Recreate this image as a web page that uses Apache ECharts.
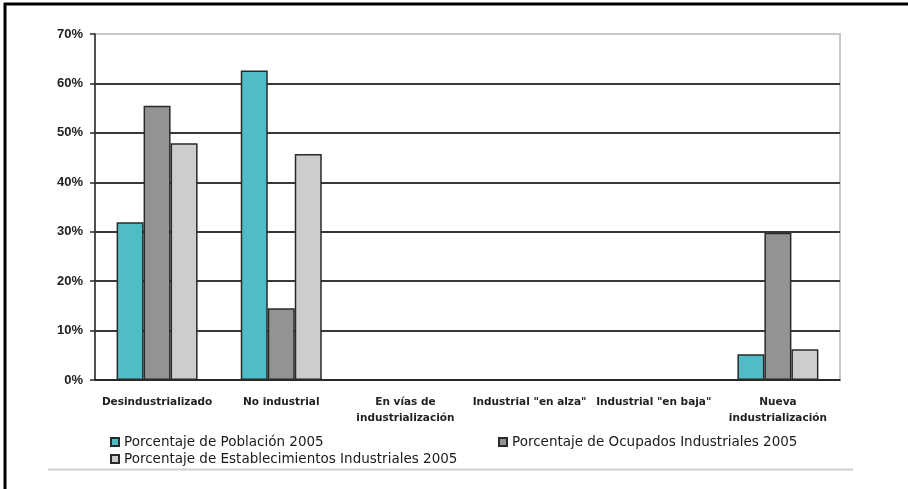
<!DOCTYPE html>
<html>
<head>
<meta charset="utf-8">
<script src="https://cdn.jsdelivr.net/npm/echarts@6/dist/echarts.min.js"></script>
<style>
  html, body { margin: 0; padding: 0; background: #fff; }
  #chart { width: 908px; height: 489px; }
</style>
</head>
<body>
<div id="chart"></div>
<script>
const categories = [
  'Desindustrializado',
  'No industrial',
  'En vías de\nindustrialización',
  'Industrial "en alza"',
  'Industrial "en baja"',
  'Nueva\nindustrialización'
];
const seriesNames = [
  'Porcentaje de Población 2005',
  'Porcentaje de Ocupados Industriales 2005',
  'Porcentaje de Establecimientos Industriales 2005'
];
const poblacion = [31.9, 62.6, 0, 0, 0, 5.2];
const ocupados = [55.5, 14.5, 0, 0, 0, 29.8];
const establecimientos = [47.9, 45.7, 0, 0, 0, 6.2];
const colors = ['#50bcc6', '#939393', '#cdcdcd'];

const chart = echarts.init(document.getElementById('chart'));

const barStyle = (color) => ({
  color: color,
  borderColor: '#2a2a2a',
  borderWidth: 1.5
});

const legendText = {
  fontFamily: 'DejaVu Sans',
  fontSize: 13.5,
  color: '#1a1a1a'
};

const makeLegend = (name, left, top) => ({
  left: left,
  top: top,
  padding: 0,
  itemWidth: 8,
  itemHeight: 8,
  itemGap: 0,
  icon: 'rect',
  selectedMode: false,
  textStyle: legendText,
  data: [name]
});

chart.setOption({
  animation: false,
  grid: {
    left: 95,
    top: 34,
    right: 68,
    bottom: 109,
    show: true,
    borderColor: '#c8c8c8',
    borderWidth: 2
  },
  legend: [
    makeLegend(seriesNames[0], 110, 435),
    makeLegend(seriesNames[1], 498, 435),
    makeLegend(seriesNames[2], 110, 452)
  ],
  xAxis: {
    type: 'category',
    data: categories,
    axisLine: { lineStyle: { color: '#2a2a2a', width: 1.5 } },
    axisTick: { length: 5, lineStyle: { color: '#2a2a2a', width: 1.5 } },
    axisLabel: {
      interval: 0,
      margin: 14,
      fontFamily: 'DejaVu Sans',
      fontWeight: 'bold',
      fontSize: 10.5,
      lineHeight: 16,
      color: '#222'
    }
  },
  yAxis: {
    type: 'value',
    min: 0,
    max: 70,
    interval: 10,
    axisLine: { show: true, lineStyle: { color: '#2a2a2a', width: 1.5 } },
    axisTick: { show: true, length: 5, lineStyle: { color: '#2a2a2a', width: 1.5 } },
    axisLabel: {
      margin: 12,
      formatter: '{value}%',
      fontFamily: 'Liberation Sans',
      fontWeight: 'bold',
      fontSize: 13,
      color: '#222'
    },
    splitLine: {
      lineStyle: {
        color: ['#2a2a2a', '#383838', '#383838', '#383838', '#383838', '#383838', '#383838', '#c8c8c8'],
        width: 2
      }
    }
  },
  series: [
    { name: seriesNames[0], type: 'bar', data: poblacion, barWidth: 27, barGap: '0%', itemStyle: barStyle(colors[0]) },
    { name: seriesNames[1], type: 'bar', data: ocupados, barWidth: 27, barGap: '0%', itemStyle: barStyle(colors[1]) },
    { name: seriesNames[2], type: 'bar', data: establecimientos, barWidth: 27, barGap: '0%', itemStyle: barStyle(colors[2]) }
  ],
  graphic: [
    { type: 'line', shape: { x1: 5, y1: 3, x2: 5, y2: 489 }, style: { stroke: '#000', lineWidth: 3 } },
    { type: 'line', shape: { x1: 4, y1: 4, x2: 908, y2: 4 }, style: { stroke: '#000', lineWidth: 3 } },
    { type: 'line', shape: { x1: 48, y1: 469.5, x2: 853, y2: 469.5 }, style: { stroke: '#cfcfcf', lineWidth: 2 } }
  ]
});
</script>
</body>
</html>
